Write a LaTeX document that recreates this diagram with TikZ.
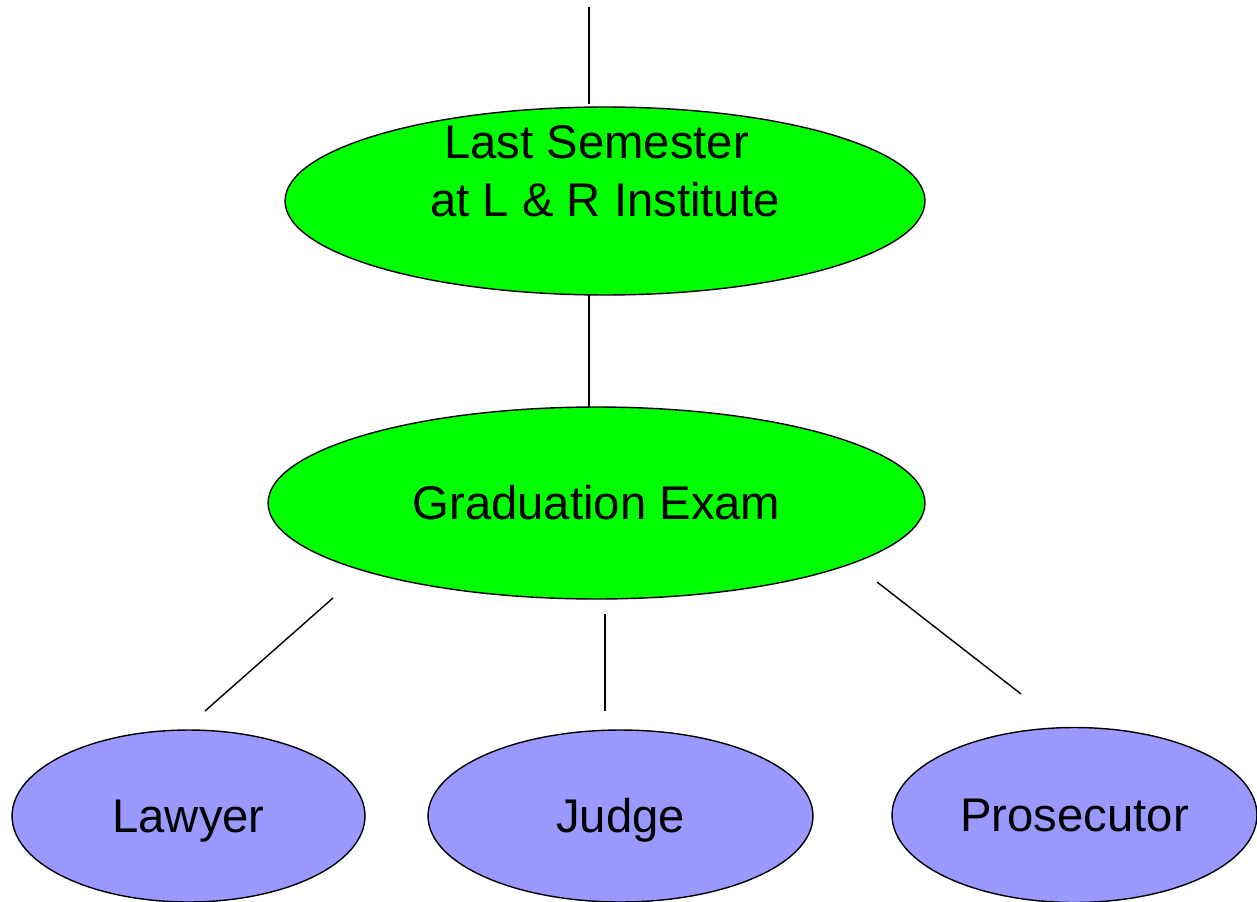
\documentclass[tikz,border=0pt]{standalone}
\usepackage{fontspec}
\setmainfont{Liberation Sans}
\usetikzlibrary{shapes.geometric}
\definecolor{ovalgreen}{RGB}{0,255,0}
\definecolor{ovalblue}{RGB}{153,153,255}

\begin{document}
\begin{tikzpicture}[x=0.02cm,y=-0.02cm,line width=0.8pt,
  txt/.style={font=\fontsize{26.9}{33}\selectfont},
  oval/.style={ellipse,draw=black,inner sep=0pt,txt,text height=19.3pt,text depth=0pt},
  greenoval/.style={oval,fill=ovalgreen},
  blueoval/.style={oval,fill=ovalblue}]
  \useasboundingbox (0,0) rectangle (1257,902);

  % top
  \node[greenoval,minimum width=12.8cm,minimum height=3.76cm,at={(605,201)}] (semester) {};
  \node[txt,align=center,at={(605,171)}] (semestertxt) {Last Semester\hspace*{0.36em}\\at L \& R Institute};

  % middle
  \node[greenoval,minimum width=13.14cm,minimum height=3.84cm,at={(596.5,503)}] (exam) {Graduation Exam};

  % bottom
  \node[blueoval,minimum width=7.06cm,minimum height=3.44cm,at={(188.5,816)}] (lawyer) {Lawyer};
  \node[blueoval,minimum width=7.7cm,minimum height=3.44cm,at={(620.5,816)}] (judge) {Judge};
  \node[blueoval,minimum width=7.3cm,minimum height=3.5cm,at={(1074.5,815)}] (prosecutor) {Prosecutor};

  %line ends
  \coordinate (in0) at (589,7);
  \coordinate (in1) at (589,104);
  \coordinate (mid0) at (589,295);
  \coordinate (mid1) at (589,407);
  \coordinate (law0) at (333,598);
  \coordinate (law1) at (205,711);
  \coordinate (jud0) at (605,614);
  \coordinate (jud1) at (605,711);
  \coordinate (pro0) at (877,582);
  \coordinate (pro1) at (1021,694);

  %edges
  \draw (in0) -- (in1);
  \draw (mid0) -- (mid1);
  \draw (law0) -- (law1);
  \draw (jud0) -- (jud1);
  \draw (pro0) -- (pro1);
\end{tikzpicture}
\end{document}
